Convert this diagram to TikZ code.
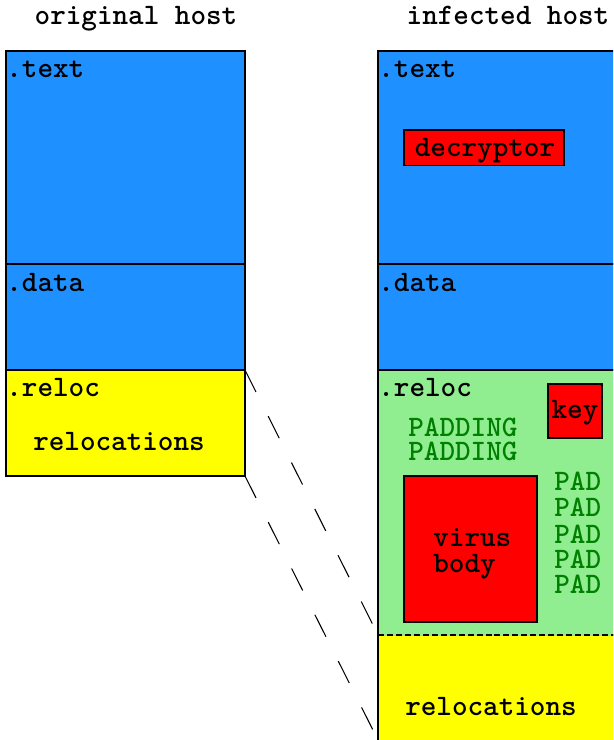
\documentclass[tikz,border=0pt]{standalone}
\usepackage{fontspec}
\usetikzlibrary{calc}

\definecolor{secblue}{RGB}{30,144,255}
\definecolor{secyellow}{RGB}{255,255,0}
\definecolor{secgreen}{RGB}{144,238,144}
\definecolor{secred}{RGB}{255,0,0}
\definecolor{padgreen}{RGB}{0,128,0}

\begin{document}
\begin{tikzpicture}[x=0.02cm,y=-0.02cm]
  \tikzset{sect/.style={draw,line width=1.1pt,inner sep=0,outer sep=0,anchor=north west},
    lbl/.style={inner sep=0,anchor=base west,font=\ttfamily\bfseries\fontsize{16.9pt}{15pt}\selectfont},
    link/.style={line width=0.6pt,dash pattern=on 14pt off 15.5pt}};
  \useasboundingbox (0,0) rectangle (613,740);
  \clip (0,0) rectangle (613,740);
  % original host
  \node[lbl,anchor=base] (otitle) at (136,25) {original host};
  \node[sect,fill=secblue,minimum width=4.78cm,minimum height=4.26cm] (otext) at (6,51) {};
  \node[sect,fill=secblue,minimum width=4.78cm,minimum height=2.12cm] (odata) at (otext.south west) {};
  \node[sect,fill=secyellow,minimum width=4.78cm,minimum height=2.12cm] (oreloc) at (odata.south west) {};
  \node[lbl] (otextl) at (6,78) {.text};
  \node[lbl] (odatal) at (6,291) {.data};
  \node[lbl] (orelocl) at (6,396) {.reloc};
  \node[lbl,anchor=base] (orels) at (119,450) {relocations};
  % infected host
  \node[lbl,anchor=base] (ititle) at (508,25) {infected host};
  \node[sect,fill=secblue,minimum width=5.24cm,minimum height=4.26cm] (itext) at (378,51) {};
  \node[sect,fill=secblue,minimum width=5.24cm,minimum height=2.12cm] (idata) at (itext.south west) {};
  \node[sect,fill=secgreen,minimum width=5.24cm,minimum height=5.3cm] (ireloc) at (idata.south west) {};
  \node[sect,fill=secyellow,minimum width=5.24cm,minimum height=2.3cm] (irel) at (ireloc.south west) {};
  \draw[secgreen,line width=1.1pt] (ireloc.south west) ++(1,0) -- (ireloc.south east);
  \draw[line width=1.1pt,dash pattern=on 3.4pt off 1.7pt] (ireloc.south west) -- (ireloc.south east);
  \node[lbl] (itextl) at (378,78) {.text};
  \node[lbl] (idatal) at (378,291) {.data};
  \node[lbl] (irelocl) at (378,396) {.reloc};
  \node[sect,fill=secred,minimum width=3.2cm,minimum height=0.71cm] (decr) at (404,130) {};
  \node[lbl,anchor=base] (decrl) at (485,156) {decryptor};
  \node[sect,fill=secred,minimum width=1.08cm,minimum height=1.08cm] (key) at (548,384) {};
  \node[lbl,anchor=base] (keyl) at (575,418) {key};
  \node[lbl,text=padgreen] (pad1) at (408,436) {PADDING};
  \node[lbl,text=padgreen] (pad2) at (408,460) {PADDING};
  \node[sect,fill=secred,minimum width=2.66cm,minimum height=2.92cm] (virus) at (404,476) {};
  \node[lbl] (virusl) at (433,546) {virus};
  \node[lbl] (bodyl) at (433,572) {body};
  \foreach \y [count=\i] in {490,516,543,568,593}
    \node[lbl,text=padgreen] (pad\i) at (554,\y) {PAD};
  \node[lbl,anchor=base] (irels) at (491,715) {relocations};
  % mapping of .reloc
  \coordinate (iend) at (378,740);
  \draw[link] (oreloc.north east) -- (ireloc.south west);
  \draw[link] (oreloc.south east) -- (iend);
\end{tikzpicture}
\end{document}
